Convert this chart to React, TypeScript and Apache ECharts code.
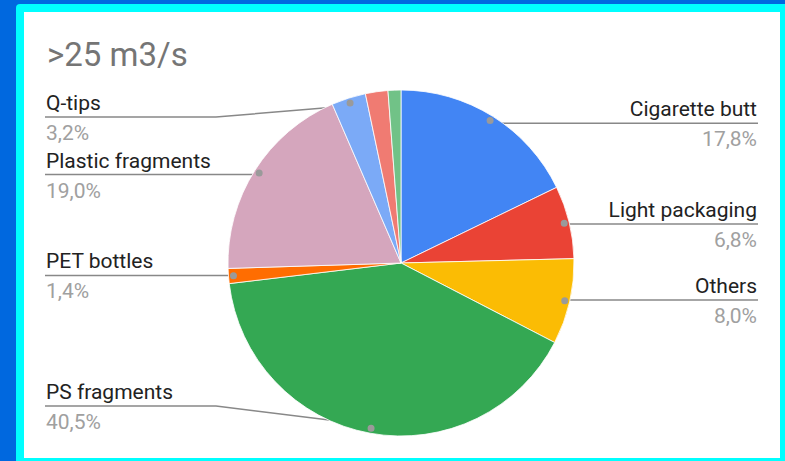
import React, { useEffect, useRef } from "react";
import * as echarts from "echarts";

const TITLE = ">25 m3/s";
const CATEGORIES = [
  "Cigarette butt",
  "Light packaging",
  "Others",
  "PS fragments",
  "PET bottles",
  "Plastic fragments",
  "Q-tips",
  "Unlabelled 1",
  "Unlabelled 2",
];
const VALUES = [17.8, 6.8, 8.0, 40.5, 1.4, 19.0, 3.2, 2.1, 1.2];
const COLORS = [
  "#4285f4",
  "#ea4335",
  "#fbbc04",
  "#34a853",
  "#ff6d01",
  "#d5a6bd",
  "#7baaf7",
  "#f07b72",
  "#71c287",
];
const SHOW_LABEL = [true, true, true, true, true, true, true, false, false];

const CX = 401;
const CY = 263;
const R = 173;
const DOT_R = 165;
const LEFT_X = 46;
const RIGHT_X = 757;
const ELBOW_LEFT = 216;
const ELBOW_RIGHT = 586;
const TOP_Y = 117;
const BOTTOM_Y = 406;

const fmtPct = (v: number) => v.toFixed(1).replace(".", ",") + "%";

export default function App() {
  const ref = useRef<HTMLDivElement>(null);
  useEffect(() => {
    if (!ref.current) return;
    const chart = echarts.init(ref.current, null, { renderer: "svg" });
    const total = VALUES.reduce((a, b) => a + b, 0);
    const midAngle = (i: number) => {
      let acc = 0;
      for (let k = 0; k < i; k++) acc += VALUES[k];
      acc += VALUES[i] / 2;
      return (acc / total) * Math.PI * 2;
    };
    const data = CATEGORIES.map((name, i) => ({
      name,
      value: VALUES[i],
      itemStyle: { color: COLORS[i] },
      label: { show: SHOW_LABEL[i] },
      labelLine: { show: SHOW_LABEL[i] },
    }));
    const dotData = CATEGORIES.map((name, i) => ({
      name,
      value: VALUES[i],
      label: { show: SHOW_LABEL[i] },
    }));
    chart.setOption({
      animation: false,
      title: {
        text: TITLE,
        left: 42,
        top: 33,
        textStyle: {
          fontFamily: "Roboto",
          fontSize: 33,
          fontWeight: "normal",
          color: "#757575",
        },
      },
      series: [
        {
          type: "pie",
          center: [CX, CY],
          radius: [0, R],
          startAngle: 90,
          clockwise: true,
          silent: true,
          avoidLabelOverlap: false,
          itemStyle: { borderColor: "#ffffff", borderWidth: 0.8 },
          label: {
            show: true,
            position: "outside",
            formatter: (p: any) => `{n|${p.name}}\n{p|${fmtPct(p.value)}}`,
            rich: {
              n: {
                fontFamily: "Roboto",
                fontSize: 21,
                color: "#222222",
                lineHeight: 30,
              },
              p: {
                fontFamily: "Roboto",
                fontSize: 21,
                color: "#a0a0a0",
                lineHeight: 30,
              },
            },
          },
          labelLine: {
            show: true,
            lineStyle: { color: "#888888", width: 1.5 },
          },
          labelLayout: (params: any) => {
            const i = params.dataIndex;
            const a = midAngle(i);
            const sx = CX + DOT_R * Math.sin(a);
            const sy = CY - DOT_R * Math.cos(a);
            const isLeft = Math.sin(a) < 0;
            const ly = Math.min(Math.max(sy, TOP_Y), BOTTOM_Y);
            const ex = isLeft ? LEFT_X - 1 : RIGHT_X + 1;
            const bx = isLeft ? ELBOW_LEFT : ELBOW_RIGHT;
            return {
              x: isLeft ? LEFT_X : RIGHT_X,
              y: ly + 1,
              align: isLeft ? "left" : "right",
              verticalAlign: "middle",
              labelLinePoints: [
                [sx, sy],
                [bx, ly],
                [ex, ly],
              ],
            };
          },
          data,
        },
        {
          type: "pie",
          center: [CX, CY],
          radius: [DOT_R - 8, DOT_R + 8],
          startAngle: 90,
          clockwise: true,
          silent: true,
          itemStyle: { color: "rgba(0,0,0,0)", borderWidth: 0 },
          label: {
            show: true,
            position: "inside",
            formatter: " ",
            fontSize: 1,
            width: 7,
            height: 7,
            lineHeight: 7,
            padding: 0,
            backgroundColor: "#9a9a9a",
            borderRadius: 3.5,
            align: "center",
            verticalAlign: "middle",
          },
          labelLine: { show: false },
          data: dotData,
        },
      ],
    });
    return () => chart.dispose();
  }, []);

  return (
    <div
      style={{
        position: "fixed",
        left: 0,
        top: 0,
        width: 785,
        height: 461,
        background: "#0068df",
        overflow: "hidden",
      }}
    >
      <div
        style={{
          position: "absolute",
          left: 16,
          top: 4,
          width: 780,
          height: 470,
          background: "#00ffff",
          borderTopLeftRadius: 4,
        }}
      />
      <div
        style={{
          position: "absolute",
          left: 24,
          top: 12,
          width: 756,
          height: 446,
          background: "#ffffff",
        }}
      />
      <div
        ref={ref}
        style={{ position: "absolute", left: 0, top: 0, width: 785, height: 461 }}
      />
    </div>
  );
}
